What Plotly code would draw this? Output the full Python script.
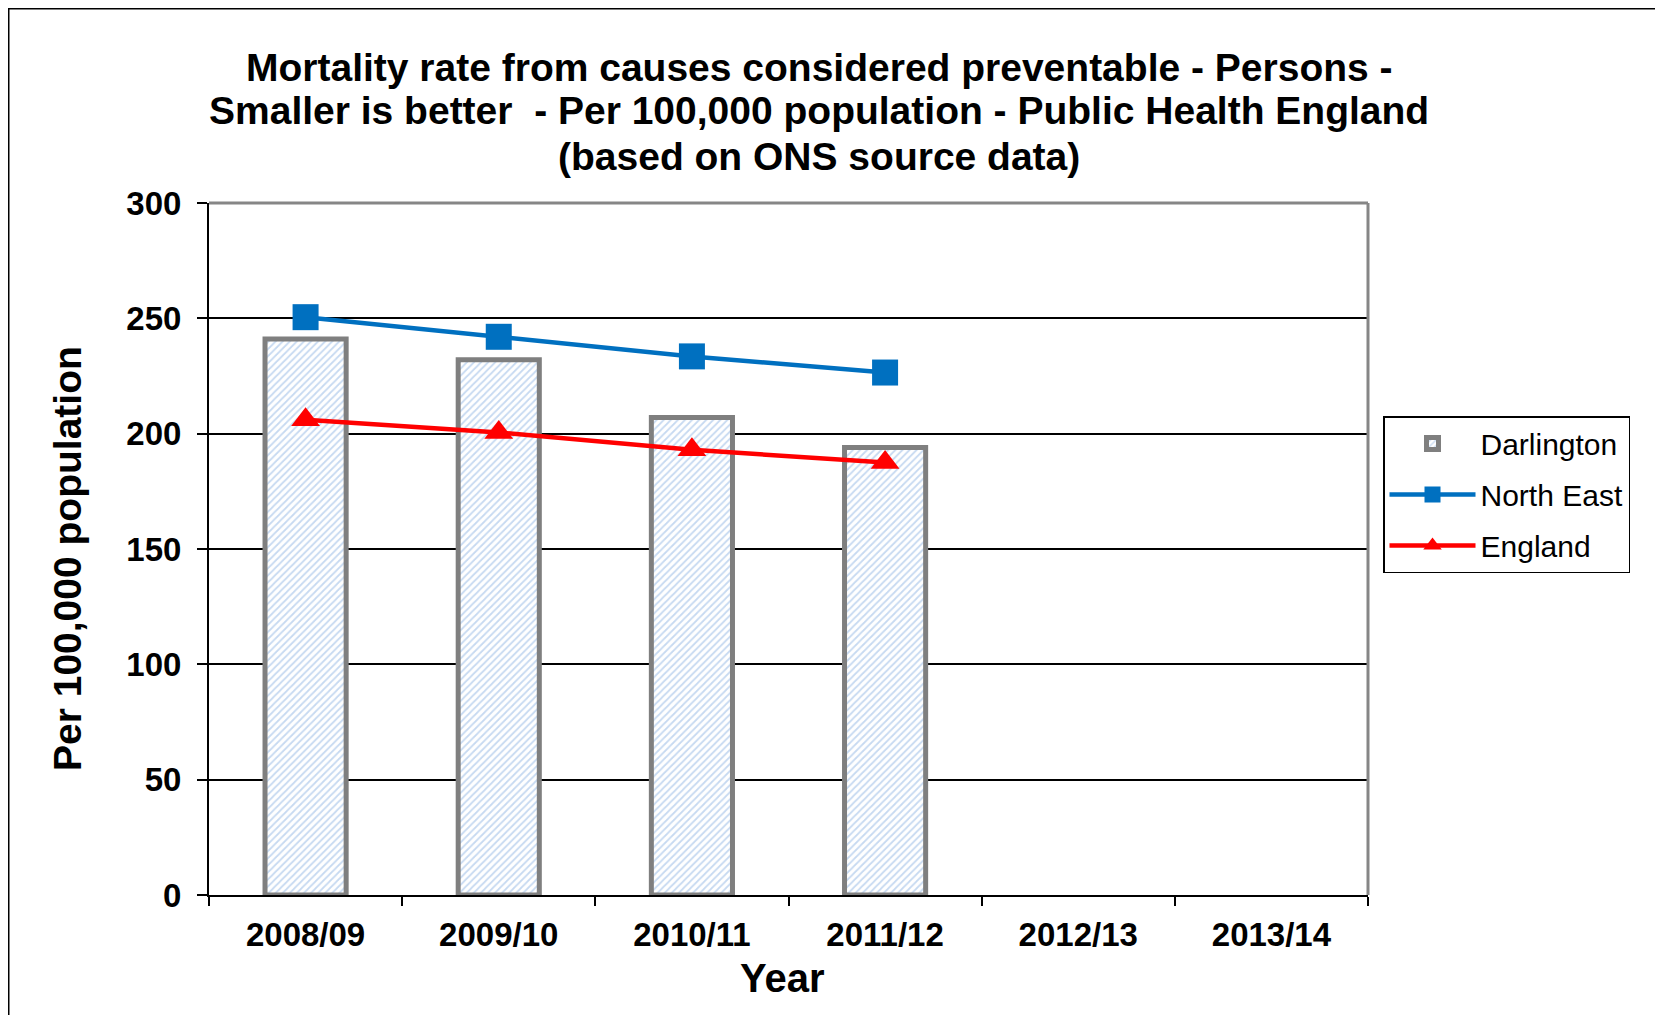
import plotly.graph_objects as go

# ---- data ----
years = ["2008/09", "2009/10", "2010/11", "2011/12", "2012/13", "2013/14"]
darlington = [241, 232, 207, 194, None, None]
north_east = [250.5, 242, 233.5, 226.5, None, None]
england = [206, 200.5, 193, 187.5, None, None]

title_lines = [
    "Mortality rate from causes considered preventable - Persons -",
    "Smaller is better  - Per 100,000 population - Public Health England",
    "(based on ONS source data)",
]

W, H = 1663, 1015
OFF = 8  # page margin of the html body
# plot area pixel box (screen coordinates)
SL, SR, ST, SB = 209, 1368, 203, 895
L, R, T, B = SL - OFF, SR - OFF, ST - OFF, SB - OFF
FONT = "Liberation Sans, Arial, sans-serif"

def px_x(x):
    return (x - OFF - L) / (R - L)

def px_y(y):
    return (B - (y - OFF)) / (B - T)

fig = go.Figure()

fig.add_trace(go.Bar(
    x=years, y=darlington, name="Darlington",
    marker=dict(
        color="white",
        line=dict(color="#7F7F7F", width=5),
        pattern=dict(shape="/", fgcolor="#8EB4E3", bgcolor="white",
                     size=5, solidity=0.35),
    ),
    legendgroup="a",
))
fig.add_trace(go.Scatter(
    x=years, y=north_east, name="North East", mode="lines+markers",
    line=dict(color="#0070C0", width=4.5),
    marker=dict(symbol="square", size=26, color="#0070C0"),
    legendgroup="b",
))
fig.add_trace(go.Scatter(
    x=years, y=england, name="England", mode="lines+markers",
    line=dict(color="#FF0000", width=4.5),
    marker=dict(symbol="triangle-up", size=25, color="#FF0000"),
    legendgroup="c",
))

# title lines as annotations
for txt, yp in zip(title_lines, [67, 111, 157]):
    fig.add_annotation(
        text="<b>%s</b>" % txt, xref="paper", yref="paper",
        x=px_x(819), y=px_y(yp), xanchor="center", yanchor="middle",
        showarrow=False, font=dict(family=FONT, size=39, color="black"),
    )

# axis titles as annotations for precise placement
fig.add_annotation(
    text="<b>Year</b>", xref="paper", yref="paper",
    x=px_x(782), y=px_y(978), xanchor="center", yanchor="middle",
    showarrow=False, font=dict(family=FONT, size=40, color="black"),
)
fig.add_annotation(
    text="<b>Per 100,000 population</b>", xref="paper", yref="paper",
    x=px_x(67), y=px_y(559), xanchor="center", yanchor="middle",
    textangle=-90,
    showarrow=False, font=dict(family=FONT, size=39, color="black"),
)

shapes = [
    # grey top and right plot border
    dict(type="line", xref="paper", yref="paper", x0=0, x1=1, y0=1, y1=1,
         line=dict(color="#868686", width=3), layer="above"),
    dict(type="line", xref="paper", yref="paper", x0=1, x1=1, y0=0, y1=1,
         line=dict(color="#868686", width=3), layer="above"),
    # outer chart border (only top and left visible in frame)
    dict(type="rect", xref="paper", yref="paper",
         x0=px_x(8), x1=px_x(1700), y0=px_y(1060), y1=px_y(8),
         line=dict(color="black", width=3), layer="above"),
]

fig.update_layout(
    width=W, height=H,
    margin=dict(l=L, r=W - R, t=T, b=H - B, pad=0),
    paper_bgcolor="white", plot_bgcolor="white",
    font=dict(family=FONT, color="black"),
    bargap=0.58,
    shapes=shapes,
    showlegend=True,
    legend=dict(
        x=px_x(1383), y=px_y(416), xanchor="left", yanchor="top",
        bordercolor="black", borderwidth=1.5, bgcolor="white",
        font=dict(family=FONT, size=30, color="black"),
        traceorder="grouped", tracegroupgap=9,
        itemwidth=86,
    ),
    xaxis=dict(
        type="category", categoryorder="array", categoryarray=years,
        range=[-0.5, 5.5],
        showline=True, linecolor="black", linewidth=2,
        ticks="outside", tickson="boundaries", ticklen=9, tickwidth=1.5,
        tickcolor="black",
        tickfont=dict(family=FONT, size=33, color="black", weight="bold"),
        ticklabelstandoff=9,
        showgrid=False,
    ),
    yaxis=dict(
        range=[0, 300], dtick=50, tick0=0,
        showline=True, linecolor="black", linewidth=2,
        ticks="outside", ticklen=10, tickwidth=1.5, tickcolor="black",
        tickfont=dict(family=FONT, size=33, color="black", weight="bold"),
        ticklabelstandoff=9,
        showgrid=True, gridcolor="black", gridwidth=1.5,
        zeroline=False,
    ),
)

fig.write_html("out.html")
